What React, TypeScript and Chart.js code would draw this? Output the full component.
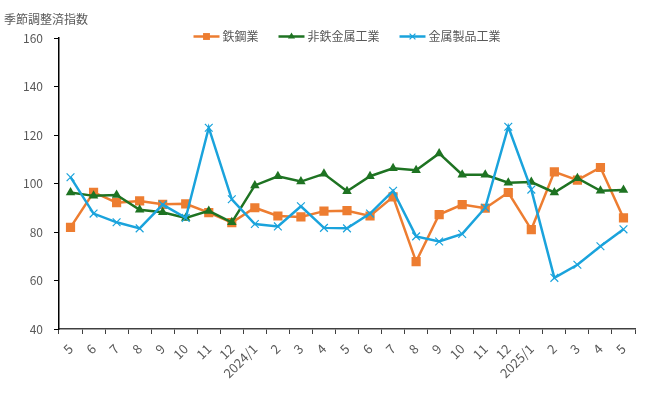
import React, { useEffect, useRef } from "react";
import { Chart, registerables } from "chart.js";

Chart.register(...registerables);

const categories = [
  "5", "6", "7", "8", "9", "10", "11", "12",
  "2024/1", "2", "3", "4", "5", "6", "7", "8", "9", "10", "11", "12",
  "2025/1", "2", "3", "4", "5",
];

const steel = [
  81.9, 96.4, 92.1, 92.8, 91.4, 91.6, 88.0, 83.9,
  90.0, 86.6, 86.2, 88.6, 88.8, 86.6, 94.5, 67.8, 87.2, 91.3, 89.8, 96.3,
  81.0, 104.8, 101.4, 106.6, 85.8,
];

const nonFerrous = [
  96.3, 94.9, 95.3, 89.2, 88.1, 85.8, 88.7, 84.0,
  99.2, 103.0, 100.8, 104.0, 96.8, 103.0, 106.3, 105.5, 112.4, 103.6, 103.6, 100.3,
  100.6, 96.3, 102.2, 97.0, 97.3,
];

const metalProducts = [
  102.6, 87.6, 84.0, 81.5, 91.3, 85.8, 123.0, 93.5,
  83.3, 82.3, 90.6, 81.7, 81.5, 87.6, 97.0, 78.2, 76.1, 79.2, 90.0, 123.4,
  97.5, 61.1, 66.5, 74.1, 81.1,
];

const seriesNames = ["鉄鋼業", "非鉄金属工業", "金属製品工業"];
const yTitle = "季節調整済指数";

const FONT = "'Noto Sans CJK JP', 'Noto Sans', sans-serif";
const TEXT = "#595959";

function drawMarker(ctx: CanvasRenderingContext2D, d: any, cx: number, cy: number, scale: number) {
  ctx.save();
  ctx.fillStyle = d.pointBackgroundColor;
  ctx.strokeStyle = d.pointBorderColor;
  ctx.lineWidth = d.pointBorderWidth;
  const r = d.pointRadius * scale;
  ctx.beginPath();
  if (d.pointStyle === "rect") {
    const s = Math.SQRT1_2 * r;
    ctx.rect(cx - s, cy - s, 2 * s, 2 * s);
    ctx.fill();
  } else if (d.pointStyle === "triangle") {
    ctx.moveTo(cx, cy - r);
    ctx.lineTo(cx + Math.sin((2 * Math.PI) / 3) * r, cy - Math.cos((2 * Math.PI) / 3) * r);
    ctx.lineTo(cx + Math.sin((4 * Math.PI) / 3) * r, cy - Math.cos((4 * Math.PI) / 3) * r);
    ctx.closePath();
    ctx.fill();
  } else {
    const s = Math.SQRT1_2 * r;
    ctx.moveTo(cx - s, cy - s);
    ctx.lineTo(cx + s, cy + s);
    ctx.moveTo(cx - s, cy + s);
    ctx.lineTo(cx + s, cy - s);
    ctx.stroke();
  }
  ctx.restore();
}

const legendPlugin = {
  id: "customLegendTitle",
  afterDraw(chart: any) {
    const ctx = chart.ctx;
    const area = chart.chartArea;
    ctx.save();
    ctx.font = `12px ${FONT}`;
    ctx.fillStyle = TEXT;
    ctx.textBaseline = "middle";
    ctx.textAlign = "left";
    ctx.fillText(yTitle, 4, 19);

    const lineLen = 26;
    const gap = 3;
    const itemGap = 20;
    const ds = chart.data.datasets;
    const widths = ds.map((d: any) => lineLen + gap + ctx.measureText(d.label).width);
    const total = widths.reduce((a: number, b: number) => a + b, 0) + itemGap * (ds.length - 1);
    let x = (area.left + area.right) / 2 - total / 2;
    const y = 36.5;
    ds.forEach((d: any, i: number) => {
      ctx.strokeStyle = d.borderColor;
      ctx.lineWidth = d.borderWidth;
      ctx.beginPath();
      ctx.moveTo(x, y);
      ctx.lineTo(x + lineLen, y);
      ctx.stroke();
      drawMarker(ctx, d, x + lineLen / 2, y, 0.75);
      ctx.fillStyle = TEXT;
      ctx.fillText(d.label, x + lineLen + gap, y);
      x += widths[i] + itemGap;
    });
    ctx.restore();
  },
};

export default function App() {
  const ref = useRef<HTMLCanvasElement>(null);

  useEffect(() => {
    if (!ref.current) return;
    const orange = "#ED7D31";
    const green = "#1E7322";
    const blue = "#1AA3DC";
    const chart = new Chart(ref.current, {
      type: "line",
      data: {
        labels: categories,
        datasets: [
          {
            label: seriesNames[0],
            data: steel,
            borderColor: orange,
            backgroundColor: orange,
            borderWidth: 2.5,
            pointStyle: "rect",
            pointRadius: 6.5,
            pointBackgroundColor: orange,
            pointBorderColor: orange,
            pointBorderWidth: 0,
            tension: 0,
            order: 2,
          },
          {
            label: seriesNames[1],
            data: nonFerrous,
            borderColor: green,
            backgroundColor: green,
            borderWidth: 2.5,
            pointStyle: "triangle",
            pointRadius: 5.5,
            pointBackgroundColor: green,
            pointBorderColor: green,
            pointBorderWidth: 0,
            tension: 0,
            order: 1,
          },
          {
            label: seriesNames[2],
            data: metalProducts,
            borderColor: blue,
            backgroundColor: blue,
            borderWidth: 2.5,
            pointStyle: "crossRot",
            pointRadius: 5.5,
            pointBackgroundColor: blue,
            pointBorderColor: blue,
            pointBorderWidth: 1.2,
            tension: 0,
            order: 0,
          },
        ] as any,
      },
      options: {
        responsive: false,
        animation: false,
        layout: { padding: { top: 38, right: 15, left: 0, bottom: 0 } },
        plugins: {
          legend: { display: false },
          tooltip: { enabled: false },
        },
        scales: {
          x: {
            type: "category",
            offset: true,
            grid: {
              offset: true,
              drawOnChartArea: false,
              drawTicks: true,
              tickLength: 5,
              color: "#404040",
            },
            border: { display: true, color: "#404040", width: 1.5 },
            ticks: {
              autoSkip: false,
              minRotation: 45,
              maxRotation: 45,
              padding: 7,
              color: TEXT,
              font: { family: FONT, size: 13 },
            },
            afterFit: (s: any) => {
              s.height = 69;
            },
          },
          y: {
            min: 40,
            max: 160,
            ticks: {
              stepSize: 20,
              padding: 11,
              color: TEXT,
              font: { family: FONT, size: 12 },
            },
            grid: {
              drawOnChartArea: false,
              drawTicks: true,
              tickLength: 5,
              color: "#000",
            },
            border: { display: true, color: "#000", width: 1.5 },
            afterFit: (s: any) => {
              s.width = 59;
            },
          },
        },
      },
      plugins: [legendPlugin],
    });
    return () => chart.destroy();
  }, []);

  return (
    <div style={{ position: "absolute", left: 0, top: 0, width: 650, height: 398, background: "#fff" }}>
      <canvas ref={ref} width={650} height={398} style={{ display: "block" }} />
    </div>
  );
}
